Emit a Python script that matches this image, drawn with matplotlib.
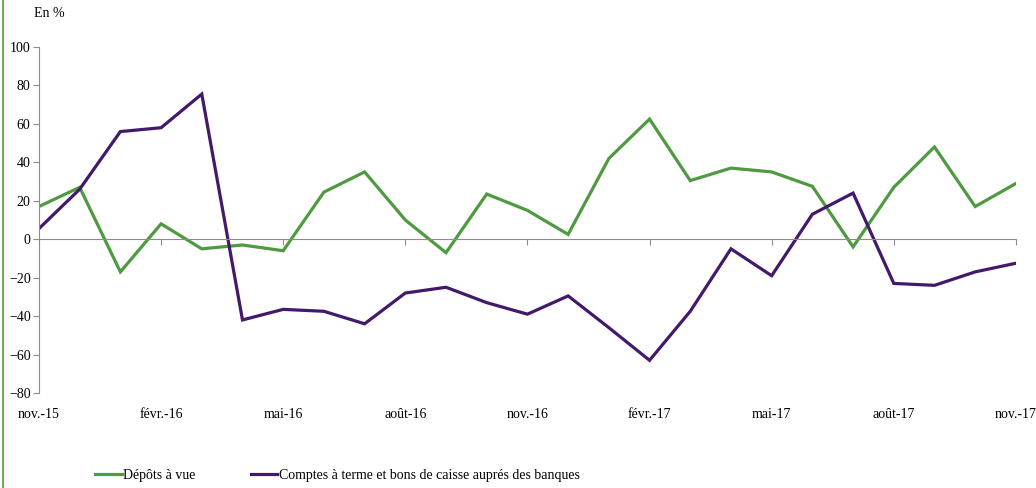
import numpy as np
import matplotlib.pyplot as plt
from matplotlib.lines import Line2D

plt.rcParams['font.family'] = ['Liberation Serif', 'DejaVu Serif']

# monthly data, nov.-15 .. nov.-17
depots_vue = [17, 27, -17, 8, -5, -3, -6, 24.5, 35, 10, -7, 23.5, 15, 2.5,
              42, 62.5, 30.5, 37, 35, 27.5, -4, 27, 48, 17, 29]
comptes_terme = [5.5, 26, 56, 58, 75.5, -42, -36.5, -37.5, -44, -28, -25, -33,
                 -39, -29.5, -46, -63, -37.5, -5, -19, 13, 24, -23, -24, -17, -12.5]
tick_labels = ['nov.-15', 'févr.-16', 'mai-16', 'août-16', 'nov.-16',
               'févr.-17', 'mai-17', 'août-17', 'nov.-17']
series_names = ['Dépôts à vue', 'Comptes à terme et bons de caisse auprés des banques']

green = '#4f9a40'
purple = '#43196a'
grey = '#8c8c8c'

x = np.arange(len(depots_vue))

fig = plt.figure(figsize=(10.36, 4.88), dpi=100)
ax = fig.add_axes([0.0376, 0.1947, 0.943, 0.709])

l1, = ax.plot(x, depots_vue, color=green, lw=2.3, solid_joinstyle='miter')
l2, = ax.plot(x, comptes_terme, color=purple, lw=2.3, solid_joinstyle='miter')

ax.set_xlim(0, len(x) - 1)
ax.set_ylim(-80, 100)
ax.set_yticks(np.arange(-80, 101, 20))

# x axis line crosses at zero, labels stay at the bottom
ax.spines['top'].set_visible(False)
ax.spines['right'].set_visible(False)
ax.spines['left'].set_color(grey)
ax.spines['bottom'].set_position(('data', 0))
ax.spines['bottom'].set_color(grey)
ax.set_xticks(x[::3])
ax.tick_params(axis='x', direction='out', length=4, color=grey, labelbottom=False)
ax.tick_params(axis='y', direction='out', length=4, color=grey, labelsize=10, pad=2)

sec = ax.secondary_xaxis('bottom')
sec.set_xticks(x[::3])
sec.set_xticklabels(tick_labels)
sec.tick_params(length=0, labelsize=10, pad=11)
sec.spines['bottom'].set_visible(False)

fig.text(0.033, 0.972, 'En %', fontsize=10, va='center', ha='left')

fig.legend([l1, l2], series_names, loc='center left', bbox_to_anchor=(0.08, 0.025),
           ncol=2, frameon=False, fontsize=10, handlelength=1.9, handletextpad=0.1,
           columnspacing=4.0)

# green frame edge on the left
fig.add_artist(Line2D([0.003, 0.003], [0, 1], transform=fig.transFigure,
                      color=green, lw=1.2))

fig.savefig('out.png', dpi=100)
